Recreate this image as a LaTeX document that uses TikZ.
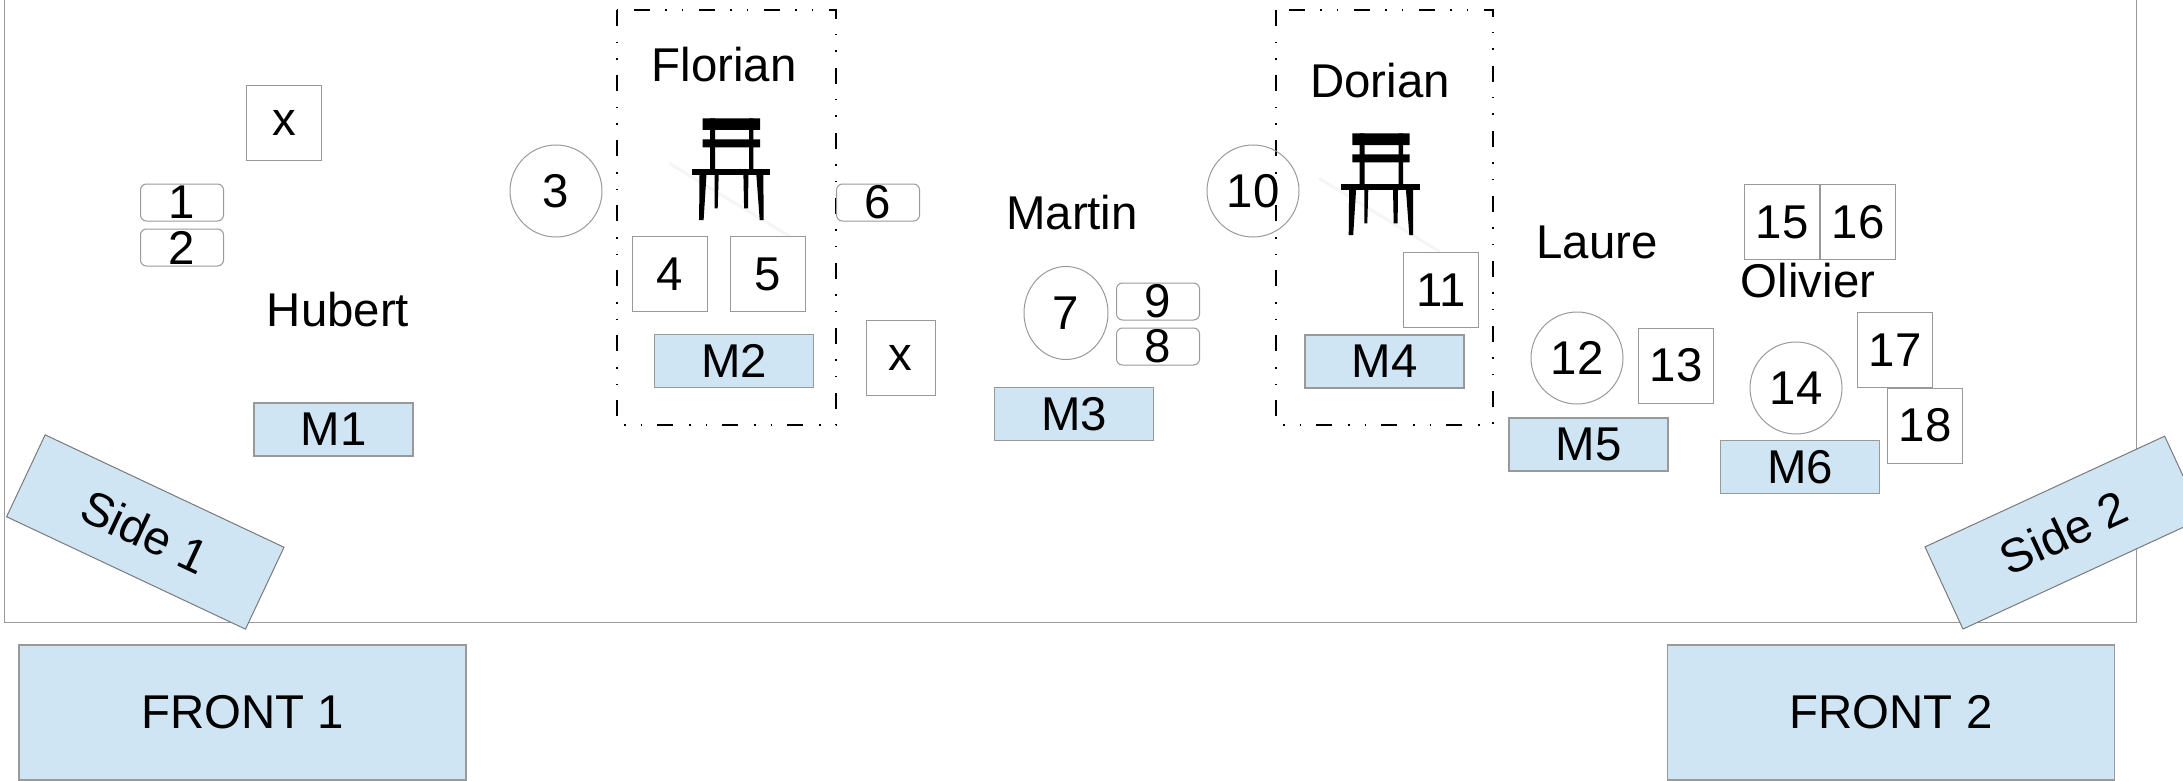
\documentclass[tikz,border=0pt]{standalone}
\usepackage{fontspec}
\setmainfont{Liberation Sans}
\usetikzlibrary{positioning,shapes.geometric}
\definecolor{celeste}{HTML}{CFE5F3}
\definecolor{borda}{HTML}{999999}
\tikzset{
  chairicon/.pic={
    \draw[black!4, line width=1.5pt] (-33.3,45) -- (87.3,118.3);
    \fill[black] (0,0) rectangle (57.3,11.7) (0,21) rectangle (57.3,29);
    \fill[black] (7.3,0) rectangle (12.3,52) (46.3,0) rectangle (50.7,52);
    \fill[black] (-11,50.7) rectangle (67.3,56.7);
    \fill[black] (-3.2,56) -- (3.8,56) -- (0.9,101.7) -- (-3.6,101.7) -- cycle;
    \fill[black] (12,56) -- (16,56) -- (15,90) -- (12,90) -- cycle;
    \fill[black] (40.7,56) -- (45.7,56) -- (45.3,90) -- (41.4,90) -- cycle;
    \fill[black] (53.6,56) -- (60.7,56) -- (60.9,101.7) -- (57,101.7) -- cycle;
  }
}

\begin{document}
\begin{tikzpicture}[x=0.5pt, y=-0.5pt, node distance=0pt, font=\fontsize{23.7}{27}\selectfont,
  seat/.style={draw=borda, line width=0.5pt, minimum width=37.5pt, minimum height=37.5pt, inner sep=0pt},
  mic/.style={draw=borda, line width=0.5pt, rounded corners=3pt, minimum width=41.5pt, minimum height=18.5pt, inner sep=0pt},
  round/.style={draw=borda, line width=0.5pt, circle, minimum size=46pt, inner sep=0pt},
  oval/.style={draw=borda, line width=0.5pt, ellipse, minimum width=42pt, minimum height=46.5pt, inner sep=0pt},
  desk/.style={draw=borda, fill=celeste, line width=0.6pt, minimum width=79.5pt, minimum height=26.5pt, inner sep=0pt},
  screen/.style={draw=borda, fill=celeste, line width=0.6pt, minimum width=223.5pt, minimum height=67.5pt, inner sep=0pt},
  side/.style={draw=borda!80!black, fill=celeste, line width=0.5pt, minimum width=132pt, minimum height=45.25pt, inner sep=0pt},
  zone/.style={draw=black, line width=0.6pt, dash pattern=on 8pt off 8pt on 0.75pt off 7.5pt on 0.75pt off 7.5pt}]
  \path[use as bounding box, clip] (0,0) rectangle (2183,781);
  \draw[draw=borda, line width=0.5pt] (4,-5) -- (4,622) -- (2136,622) -- (2136,-5);
  \draw[zone] (617,10) rectangle (836,425);
  \draw[zone] (1276,10) rectangle (1493,425);
  \pic at (702.7,118.3) {chairicon};
  \pic at (1352.3,133.3) {chairicon};
  % names
  \node (hubert) at (338,310) {Hubert};
  \node (florian) at (724,65) {Florian};
  \node (martin) at (1072,213) {Martin};
  \node (dorian) at (1380,81) {Dorian};
  \node (laure) at (1597,242) {Laure};
  \node (olivier) at (1808,281) {Olivier};
  % desks
  \node[desk] (m1) at (333.5,429.5) {M1};
  \node[desk] (m2) at (734,361) {M2};
  \node[desk] (m3) at (1074,414) {M3};
  \node[desk] (m4) at (1384.5,361.5) {M4};
  \node[desk] (m5) at (1588.5,444.5) {M5};
  \node[desk] (m6) at (1800,467) {M6};
  % seats
  \node[seat] (xa) at (284,123) {x};
  \node[seat] (s4) at (670,274) {4};
  \node[seat, right=11pt of s4] (s5) {5};
  \node[seat, minimum width=34.5pt] (xb) at (900.5,358) {x};
  \node[seat] (s11) at (1441,290) {11};
  \node[seat] (s13) at (1676,365.5) {13};
  \node[seat] (s15) at (1782,222) {15};
  \node[seat, right=of s15] (s16) {16};
  \node[seat] (s17) at (1895,350) {17};
  \node[seat] (s18) at (1925,425.5) {18};
  % mics
  \node[mic] (s1) at (182,202.5) {1};
  \node[mic, below=3.5pt of s1] (s2) {2};
  \node[mic] (s6) at (878,202.5) {6};
  \node[mic] (s9) at (1158,301.5) {9};
  \node[mic, below=3.5pt of s9] (s8) {8};
  % rounds
  \node[round] (s3) at (556,191) {3};
  \node[oval] (s7) at (1066,313) {7};
  \node[round] (s10) at (1253,191) {10};
  \node[round] (s12) at (1577,358) {12};
  \node[round] (s14) at (1796,388) {14};
  % speakers
  \node[side, rotate=-25.2] (side1) at (145.3,532) {Side 1};
  \node[side, rotate=24.8] (side2) at (2063.8,532.6) {Side 2};
  \node[screen] (front1) at (242.5,712.5) {FRONT 1};
  \node[screen] (front2) at (1891,712.5) {FRONT 2};
\end{tikzpicture}
\end{document}
